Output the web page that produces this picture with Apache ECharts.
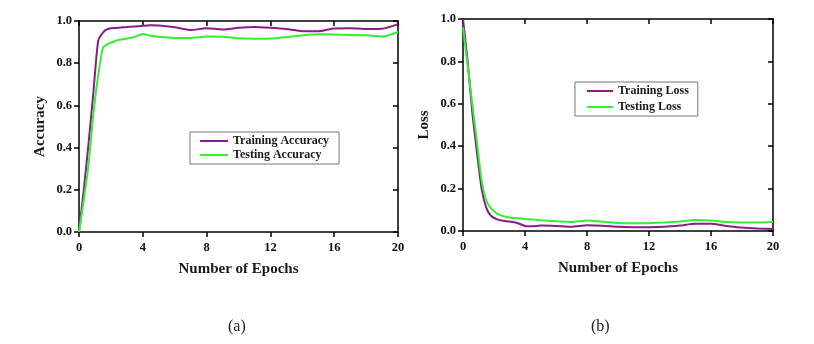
<!DOCTYPE html>
<html>
<head>
<meta charset="utf-8">
<script src="https://cdn.jsdelivr.net/npm/echarts@6/dist/echarts.min.js"></script>
<style>
  html, body { margin: 0; padding: 0; background: #fff; }
  #chart { width: 814px; height: 344px; }
</style>
</head>
<body>
<div id="chart"></div>
<script>
// epochs sampled along the curves
const epochs = [0, 0.3, 0.6, 0.9, 1.2, 1.5, 1.8, 2.2, 2.6, 3, 3.5, 4, 4.5, 5, 6, 7, 8, 9, 10, 11, 12, 13, 14, 15, 16, 17, 18, 19, 20];

const trainAcc = [0, 0.2, 0.42, 0.66, 0.905, 0.945, 0.962, 0.967, 0.969, 0.971, 0.974, 0.977, 0.98, 0.979, 0.97, 0.957, 0.966, 0.96, 0.968, 0.972, 0.968, 0.962, 0.952, 0.952, 0.965, 0.966, 0.962, 0.963, 0.985];
const testAcc = [0, 0.15, 0.32, 0.56, 0.74, 0.872, 0.89, 0.903, 0.912, 0.917, 0.925, 0.938, 0.93, 0.925, 0.92, 0.92, 0.926, 0.925, 0.918, 0.916, 0.917, 0.924, 0.932, 0.937, 0.936, 0.934, 0.932, 0.926, 0.948];

const trainLoss = [1.0, 0.8, 0.56, 0.37, 0.2, 0.11, 0.072, 0.055, 0.048, 0.045, 0.038, 0.024, 0.022, 0.026, 0.024, 0.02, 0.027, 0.025, 0.02, 0.018, 0.018, 0.02, 0.026, 0.034, 0.034, 0.024, 0.016, 0.012, 0.01];
const testLoss = [0.96, 0.78, 0.6, 0.42, 0.24, 0.145, 0.108, 0.082, 0.07, 0.064, 0.06, 0.057, 0.054, 0.051, 0.046, 0.043, 0.05, 0.044, 0.038, 0.036, 0.037, 0.04, 0.045, 0.052, 0.05, 0.042, 0.04, 0.04, 0.042];

const PURPLE = "#8b1a8b";
const GREEN = "#33f033";
const FONT = "Liberation Serif";

const pairs = (xs, ys) => xs.map((x, i) => [x, ys[i]]);

// left/bottom ticks point out, mirrored top/right ticks point in
const axisLine = { show: true, onZero: false, lineStyle: { color: "#000", width: 1.5 } };
const tick = inside => ({ show: true, inside, length: 5, lineStyle: { color: "#000", width: 1.5 } });

function xAxes(gridIndex) {
  const base = {
    gridIndex, type: "value", min: 0, max: 20, interval: 4,
    axisLine, splitLine: { show: false },
  };
  return [
    Object.assign({}, base, {
      position: "bottom", axisTick: tick(false),
      name: "Number of Epochs", nameLocation: "middle", nameGap: 30,
      nameTextStyle: { fontFamily: FONT, fontWeight: "bold", fontSize: 15, color: "#1a1a1a" },
      axisLabel: { fontFamily: FONT, fontWeight: "bold", fontSize: 12.5, color: "#111", margin: 9 },
    }),
    Object.assign({}, base, { position: "top", axisTick: tick(true), axisLabel: { show: false } }),
  ];
}

function yAxes(gridIndex, name) {
  const base = {
    gridIndex, type: "value", min: 0, max: 1, interval: 0.2,
    axisLine, splitLine: { show: false },
  };
  return [
    Object.assign({}, base, {
      position: "left", axisTick: tick(false),
      name, nameLocation: "middle", nameGap: 31,
      nameTextStyle: { fontFamily: FONT, fontWeight: "bold", fontSize: 15, color: "#1a1a1a" },
      axisLabel: { fontFamily: FONT, fontWeight: "bold", fontSize: 12.5, color: "#111", margin: 7,
        formatter: v => v.toFixed(1) },
    }),
    Object.assign({}, base, { position: "right", axisTick: tick(true), axisLabel: { show: false } }),
  ];
}

function line(name, data, color, xi, yi) {
  return {
    name, type: "line", xAxisIndex: xi, yAxisIndex: yi,
    data, smooth: 0.2, symbol: "none",
    lineStyle: { color, width: 2 }, itemStyle: { color },
  };
}

const legendText = { fontFamily: FONT, fontWeight: "bold", fontSize: 12, color: "#1a1a1a" };

const option = {
  animation: false,
  backgroundColor: "#fff",
  grid: [
    { left: 79, right: 416, top: 21, bottom: 112 },
    { left: 463, right: 41, top: 19, bottom: 113 },
  ],
  xAxis: [...xAxes(0), ...xAxes(1)],
  yAxis: [...yAxes(0, "Accuracy"), ...yAxes(1, "Loss")],
  legend: [
    {
      data: ["Training Accuracy", "Testing Accuracy"],
      orient: "vertical", left: 190, top: 132,
      borderColor: "#777", borderWidth: 1, padding: [3, 10, 3, 10],
      icon: "rect", itemWidth: 28, itemHeight: 2, itemGap: 2,
      textStyle: legendText,
    },
    {
      data: ["Training Loss", "Testing Loss"],
      orient: "vertical", left: 575, top: 82,
      borderColor: "#777", borderWidth: 1, padding: [3, 9, 3, 12],
      icon: "rect", itemWidth: 26, itemHeight: 2, itemGap: 4,
      textStyle: legendText,
    },
  ],
  series: [
    line("Training Accuracy", pairs(epochs, trainAcc), PURPLE, 0, 0),
    line("Testing Accuracy", pairs(epochs, testAcc), GREEN, 0, 0),
    line("Training Loss", pairs(epochs, trainLoss), PURPLE, 2, 2),
    line("Testing Loss", pairs(epochs, testLoss), GREEN, 2, 2),
  ],
  graphic: [
    { type: "text", left: 228, top: 319, style: { text: "(a)", font: "16px 'Liberation Serif'", fill: "#222" } },
    { type: "text", left: 591, top: 319, style: { text: "(b)", font: "16px 'Liberation Serif'", fill: "#222" } },
  ],
};

const chart = echarts.init(document.getElementById("chart"));
chart.setOption(option, true);

window.addEventListener("resize", () => {
  if (chart) {
    chart.resize();
  }
});
</script>
</body>
</html>
